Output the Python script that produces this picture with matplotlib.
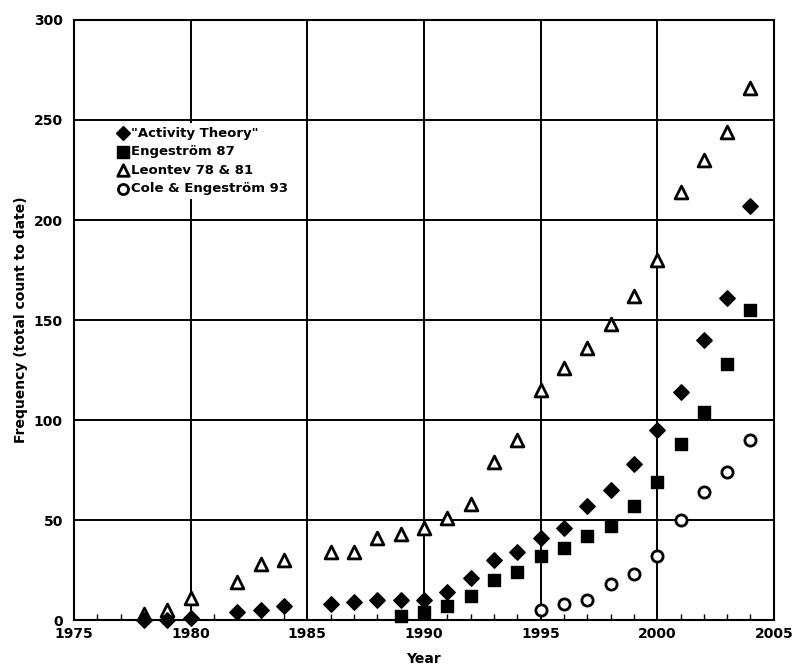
import matplotlib
matplotlib.use("Agg")
import matplotlib.pyplot as plt
from matplotlib.ticker import MultipleLocator

plt.rcParams['font.family'] = ['DejaVu Sans']

# Data
at_years = [1978, 1979, 1980, 1982, 1983, 1984, 1986, 1987, 1988, 1989, 1990, 1991,
            1992, 1993, 1994, 1995, 1996, 1997, 1998, 1999, 2000, 2001, 2002, 2003, 2004]
at_vals = [0, 0, 1, 4, 5, 7, 8, 9, 10, 10, 10, 14,
           21, 30, 34, 41, 46, 57, 65, 78, 95, 114, 140, 161, 207]

eng_years = [1989, 1990, 1991, 1992, 1993, 1994, 1995, 1996, 1997, 1998, 1999, 2000,
             2001, 2002, 2003, 2004]
eng_vals = [2, 4, 7, 12, 20, 24, 32, 36, 42, 47, 57, 69, 88, 104, 128, 155]

leo_years = [1978, 1979, 1980, 1982, 1983, 1984, 1986, 1987, 1988, 1989, 1990, 1991,
             1992, 1993, 1994, 1995, 1996, 1997, 1998, 1999, 2000, 2001, 2002, 2003, 2004]
leo_vals = [3, 5, 11, 19, 28, 30, 34, 34, 41, 43, 46, 51,
            58, 79, 90, 115, 126, 136, 148, 162, 180, 214, 230, 244, 266]

cole_years = [1995, 1996, 1997, 1998, 1999, 2000, 2001, 2002, 2003, 2004]
cole_vals = [5, 8, 10, 18, 23, 32, 50, 64, 74, 90]

labels = ['"Activity Theory"', 'Engeström 87', 'Leontev 78 & 81', 'Cole & Engeström 93']

fig = plt.figure(figsize=(7.98, 6.66), dpi=100)
ax = fig.add_axes([0.0927, 0.069, 0.877, 0.901])

ax.scatter(eng_years, eng_vals, marker='s', s=85, c='black', label=labels[1],
           zorder=3, clip_on=False)
ax.scatter(leo_years, leo_vals, marker='^', s=85, facecolors='white', edgecolors='black',
           linewidths=2, label=labels[2], zorder=4, clip_on=False)
ax.scatter(cole_years, cole_vals, marker='o', s=65, facecolors='white', edgecolors='black',
           linewidths=2, label=labels[3], zorder=4, clip_on=False)
ax.scatter(at_years, at_vals, marker='D', s=62, c='black', label=labels[0],
           zorder=5, clip_on=False)

ax.set_xlim(1975, 2005)
ax.set_ylim(0, 300)
ax.xaxis.set_major_locator(MultipleLocator(5))
ax.xaxis.set_minor_locator(MultipleLocator(1))
ax.yaxis.set_major_locator(MultipleLocator(50))
ax.grid(True, which='major', color='black', linewidth=1.4, zorder=1)
ax.set_axisbelow(True)
ax.tick_params(axis='x', which='major', direction='in', length=0, labelsize=10, pad=5)
ax.tick_params(axis='x', which='minor', direction='in', length=4, width=1)
ax.tick_params(axis='y', which='major', length=0, labelsize=10, pad=8)
for lab in ax.get_xticklabels() + ax.get_yticklabels():
    lab.set_fontweight('bold')
for sp in ax.spines.values():
    sp.set_linewidth(1.5)
    sp.set_color('black')

ax.set_xlabel('Year', fontsize=10, fontweight='bold', labelpad=8)
ax.set_ylabel('Frequency (total count to date)', fontsize=10, fontweight='bold', labelpad=4)

handles, labs = ax.get_legend_handles_labels()
order = [labs.index(l) for l in labels]
leg = ax.legend([handles[i] for i in order], [labs[i] for i in order],
                loc='upper left', bbox_to_anchor=(0.045, 0.84), frameon=True,
                prop={'size': 9.5, 'weight': 'bold'}, handletextpad=0.1, borderpad=0.3,
                labelspacing=0.42, handlelength=1.0, markerscale=0.9)
leg.get_frame().set_facecolor('white')
leg.get_frame().set_edgecolor('none')
leg.get_frame().set_alpha(1)
leg.set_zorder(6)

fig.savefig('out.png', dpi=100)
